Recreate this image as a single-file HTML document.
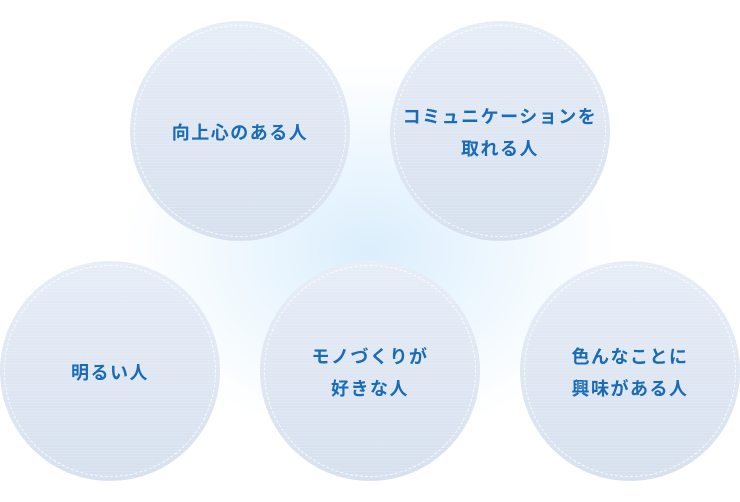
<!DOCTYPE html>
<html><head><meta charset="utf-8"><style>
html,body{margin:0;padding:0}
body{width:740px;height:502px;position:relative;overflow:hidden;background:#fff;font-family:"Liberation Sans","Noto Sans CJK JP",sans-serif}
.glow{position:absolute;left:120px;top:60px;width:500px;height:380px;background:radial-gradient(ellipse at center,rgba(215,236,252,0.9) 0%,rgba(230,244,254,0.6) 40%,rgba(255,255,255,0) 70%)}
.c{position:absolute;width:220px;height:220px;border-radius:50%;background:linear-gradient(#e7edf7,#d6e0ee);box-sizing:border-box;padding-top:4px;display:flex;align-items:center;justify-content:center;text-align:center;color:#1a6bb5;font-weight:bold;font-size:18px;line-height:32px;letter-spacing:1.5px}
.c::before{content:"";position:absolute;left:4px;top:4px;right:4px;bottom:4px;border-radius:50%;border:1px dashed rgba(255,255,255,0.8)}
.c::after{content:"";position:absolute;inset:0;border-radius:50%;background:repeating-linear-gradient(rgba(255,255,255,0.12) 0 1px,transparent 1px 3px)}
.c span{position:relative;z-index:1}
</style></head><body>
<div class="glow"></div>
<div class="c" style="left:130px;top:21px"><span>向上心のある人</span></div>
<div class="c" style="left:390px;top:21px"><span>コミュニケーションを<br>取れる人</span></div>
<div class="c" style="left:0px;top:261px"><span>明るい人</span></div>
<div class="c" style="left:260px;top:261px"><span>モノづくりが<br>好きな人</span></div>
<div class="c" style="left:520px;top:261px"><span>色んなことに<br>興味がある人</span></div>
</body></html>
